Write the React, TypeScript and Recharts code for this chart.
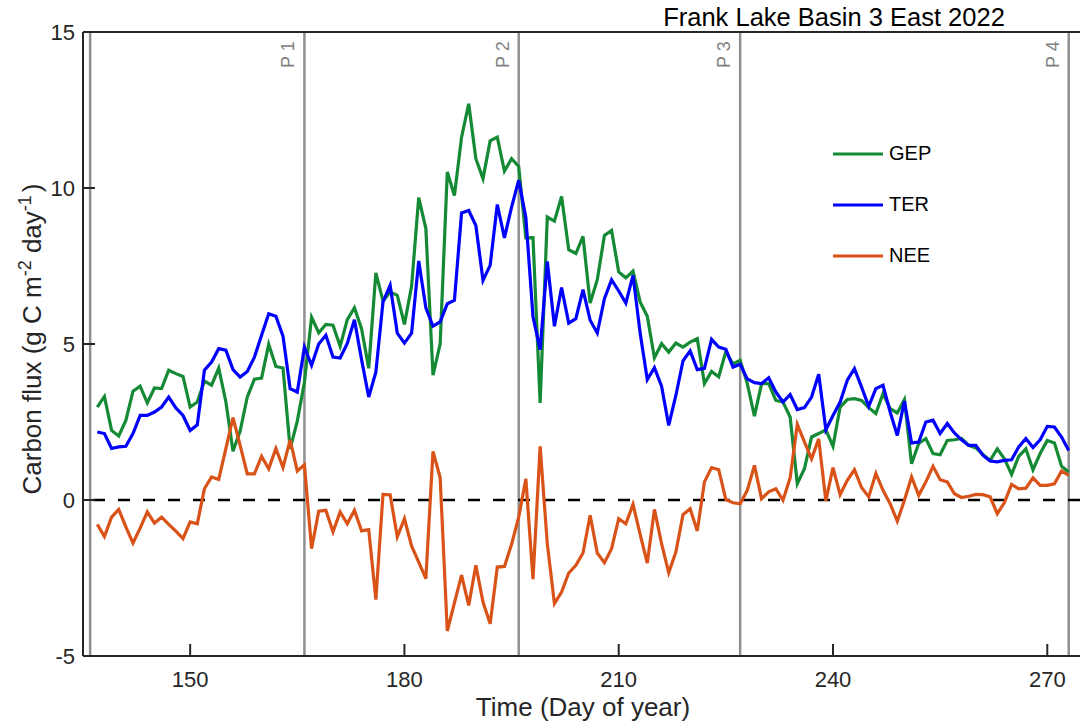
import { LineChart, Line, XAxis, YAxis, ReferenceLine, Legend } from 'recharts';

// Frank Lake Basin 3 East 2022 – daily carbon fluxes, day 137 to 273
const FIRST_DAY = 137;

const gep = [
  2.98, 3.32, 2.23, 2.05, 2.55, 3.49, 3.65, 3.11, 3.59, 3.57,
  4.16, 4.05, 3.96, 2.98, 3.14, 3.81, 3.68, 4.23, 3.15, 1.56,
  2.21, 3.30, 3.87, 3.91, 4.99, 4.28, 4.23, 1.64, 2.53, 3.77,
  5.86, 5.36, 5.63, 5.60, 4.93, 5.78, 6.16, 5.49, 4.22, 7.28,
  6.38, 6.67, 6.56, 5.63, 6.85, 9.69, 8.70, 4.00, 5.00, 10.51,
  9.76, 11.63, 12.70, 10.94, 10.30, 11.51, 11.63, 10.54, 10.94, 10.69,
  8.40, 8.41, 3.11, 9.07, 8.94, 9.73, 8.02, 7.90, 8.45, 6.31,
  7.06, 8.48, 8.64, 7.31, 7.12, 7.34, 6.35, 5.89, 4.56, 5.01,
  4.74, 5.03, 4.90, 5.06, 5.17, 3.73, 4.12, 3.95, 4.76, 4.36,
  4.48, 3.73, 2.69, 3.73, 3.73, 3.19, 3.14, 2.66, 0.52, 1.00,
  2.02, 2.13, 2.25, 1.72, 2.98, 3.22, 3.25, 3.19, 2.96, 2.77,
  3.41, 2.93, 2.79, 3.22, 1.16, 1.81, 1.97, 1.49, 1.45, 1.91,
  1.93, 1.97, 1.75, 1.67, 1.46, 1.27, 1.64, 1.32, 0.82, 1.40,
  1.64, 0.97, 1.49, 1.91, 1.83, 1.08, 0.90,
];

const ter = [
  2.18, 2.13, 1.65, 1.70, 1.72, 2.13, 2.71, 2.71, 2.82, 2.98,
  3.30, 2.95, 2.71, 2.23, 2.41, 4.16, 4.42, 4.85, 4.80, 4.18,
  3.94, 4.12, 4.58, 5.28, 5.97, 5.89, 5.25, 3.57, 3.46, 4.90,
  4.32, 5.00, 5.28, 4.58, 4.55, 5.02, 5.78, 4.50, 3.30, 4.10,
  6.35, 6.88, 5.35, 5.03, 5.35, 7.66, 6.16, 5.57, 5.71, 6.29,
  6.40, 9.20, 9.28, 8.80, 7.04, 7.52, 9.47, 8.40, 9.39, 10.25,
  9.05, 5.87, 4.82, 7.65, 5.57, 6.81, 5.67, 5.81, 6.74, 5.76,
  5.35, 6.45, 7.06, 6.70, 6.31, 7.20, 5.35, 3.86, 4.24, 3.65,
  2.39, 3.35, 4.46, 4.78, 4.18, 4.22, 5.15, 4.90, 4.83, 4.26,
  4.35, 3.88, 3.76, 3.73, 3.92, 3.46, 3.14, 3.38, 2.90, 2.96,
  3.30, 4.03, 2.25, 2.71, 3.14, 3.84, 4.21, 3.62, 3.00, 3.57,
  3.68, 2.82, 2.07, 3.17, 1.83, 1.86, 2.50, 2.56, 2.13, 2.45,
  2.15, 1.93, 1.75, 1.75, 1.43, 1.25, 1.22, 1.27, 1.29, 1.70,
  1.97, 1.68, 1.93, 2.36, 2.34, 2.02, 1.59,
];

const nee = [
  -0.78, -1.17, -0.55, -0.30, -0.86, -1.38, -0.90, -0.38, -0.74, -0.55,
  -0.78, -1.00, -1.24, -0.70, -0.76, 0.36, 0.74, 0.66, 1.65, 2.64,
  1.75, 0.84, 0.84, 1.40, 1.00, 1.65, 1.04, 1.93, 0.93, 1.13,
  -1.56, -0.36, -0.33, -1.02, -0.38, -0.76, -0.33, -0.99, -0.95, -3.19,
  0.18, 0.17, -1.18, -0.60, -1.47, -1.99, -2.52, 1.56, 0.72, -4.20,
  -3.30, -2.41, -3.38, -2.09, -3.27, -3.97, -2.15, -2.13, -1.42, -0.55,
  0.68, -2.54, 1.72, -1.40, -3.32, -2.95, -2.34, -2.09, -1.70, -0.49,
  -1.70, -2.01, -1.56, -0.60, -0.76, -0.14, -1.10, -2.02, -0.30, -1.40,
  -2.33, -1.67, -0.47, -0.28, -0.99, 0.58, 1.04, 0.97, 0.01, -0.09,
  -0.12, 0.31, 1.11, 0.04, 0.26, 0.36, -0.01, 0.71, 2.42, 1.86,
  1.32, 1.96, -0.03, 1.04, 0.17, 0.63, 0.97, 0.40, 0.10, 0.85,
  0.31, -0.12, -0.68, -0.01, 0.74, 0.15, 0.58, 1.08, 0.65, 0.58,
  0.20, 0.08, 0.12, 0.18, 0.17, 0.10, -0.44, -0.08, 0.50, 0.36,
  0.38, 0.71, 0.47, 0.47, 0.52, 0.93, 0.79,
];

// period boundaries (day of year) and their labels
const periodDays = [136, 166, 196, 227, 273];
const periodLabels = ['', 'P 1', 'P 2', 'P 3', 'P 4'];

const xTicks = [150, 180, 210, 240, 270];
const yTicks = [-5, 0, 5, 10, 15];

const SERIES = [
  { key: 'GEP', color: '#148A34' },
  { key: 'TER', color: '#0000FF' },
  { key: 'NEE', color: '#D95319' },
];

const FONT = '"Liberation Sans", Arial, Helvetica, sans-serif';
const AXIS_COLOR = '#262626';

const data = gep.map((v, i) => ({
  day: FIRST_DAY + i,
  GEP: v,
  TER: ter[i],
  NEE: nee[i],
}));

function PeriodLabel({ viewBox, text }: any) {
  if (!text || !viewBox) return null;
  const x = viewBox.x - 10;
  const y = viewBox.y + 36;
  return (
    <text x={x} y={y} transform={`rotate(-90 ${x} ${y})`} fontSize={18} fill="#808080" fontFamily={FONT}>
      {text}
    </text>
  );
}

function YAxisTitle({ viewBox }: any) {
  const cx = viewBox.x + 41;
  const cy = viewBox.y + viewBox.height / 2 - 5;
  return (
    <text x={cx} y={cy} transform={`rotate(-90 ${cx} ${cy})`} textAnchor="middle" fontSize={26} fill={AXIS_COLOR} fontFamily={FONT}>
      Carbon flux (g C m<tspan fontSize={18} dy={-10}>-2</tspan>
      <tspan dy={10}> day</tspan>
      <tspan fontSize={18} dy={-10}>-1</tspan>
      <tspan dy={10} dx={3}>)</tspan>
    </text>
  );
}

function XAxisTitle({ viewBox }: any) {
  return (
    <text x={viewBox.x + viewBox.width / 2} y={viewBox.y + 60} textAnchor="middle" fontSize={26} fill={AXIS_COLOR} fontFamily={FONT}>
      Time (Day of year)
    </text>
  );
}

function ChartTitle({ viewBox }: any) {
  return (
    <text x={viewBox.x + 751} y={viewBox.y - 5} textAnchor="middle" fontSize={25.5} fill="#000" fontFamily={FONT}>
      Frank Lake Basin 3 East 2022
    </text>
  );
}

function FluxLegend() {
  return (
    <div style={{ fontFamily: FONT }}>
      {SERIES.map((s) => (
        <div key={s.key} style={{ display: 'flex', alignItems: 'center', height: 51 }}>
          <svg width={50} height={4} style={{ marginRight: 6 }}>
            <line x1={0} y1={2} x2={50} y2={2} stroke={s.color} strokeWidth={3} />
          </svg>
          <span style={{ fontSize: 20, color: '#000' }}>{s.key}</span>
        </div>
      ))}
    </div>
  );
}

export default function App() {
  return (
    <div style={{ position: 'absolute', left: 0, top: 0, width: 1080, height: 725, overflow: 'hidden', background: '#fff' }}>
      <LineChart width={1100} height={725} data={data} margin={{ top: 31, right: 0, bottom: 0, left: 0 }}>
        <XAxis
          dataKey="day"
          type="number"
          domain={[135, 275]}
          allowDataOverflow
          ticks={xTicks}
          height={69}
          stroke={AXIS_COLOR}
          axisLine={{ strokeWidth: 2 }}
          tickLine={{ strokeWidth: 2 }}
          tickSize={-12}
          tickMargin={27}
          tick={{ fontSize: 22, fill: AXIS_COLOR, fontFamily: FONT }}
          label={<XAxisTitle />}
        />
        <XAxis
          xAxisId="top"
          orientation="top"
          type="number"
          domain={[135, 275]}
          allowDataOverflow
          ticks={xTicks}
          height={1}
          stroke={AXIS_COLOR}
          axisLine={{ strokeWidth: 2 }}
          tickLine={{ strokeWidth: 2 }}
          tickSize={-12}
          tick={false}
          label={<ChartTitle />}
        />
        <YAxis
          type="number"
          domain={[-5, 15]}
          allowDataOverflow
          ticks={yTicks}
          width={83}
          stroke={AXIS_COLOR}
          axisLine={{ strokeWidth: 2 }}
          tickLine={{ strokeWidth: 2 }}
          tickSize={-12}
          tickMargin={20}
          tick={{ fontSize: 22, fill: AXIS_COLOR, fontFamily: FONT }}
          label={<YAxisTitle />}
        />
        <YAxis
          yAxisId="right"
          orientation="right"
          type="number"
          domain={[-5, 15]}
          allowDataOverflow
          ticks={yTicks}
          width={17}
          stroke={AXIS_COLOR}
          axisLine={{ strokeWidth: 2 }}
          tickLine={{ strokeWidth: 2 }}
          tickSize={-12}
          tick={false}
        />
        {periodDays.map((d, i) => (
          <ReferenceLine
            key={d}
            x={d}
            stroke="#909090"
            strokeWidth={2.5}
            label={<PeriodLabel text={periodLabels[i]} />}
          />
        ))}
        <ReferenceLine y={0} stroke="#000" strokeWidth={2.5} strokeDasharray="12 13" strokeDashoffset={15} />
        {SERIES.map((s) => (
          <Line
            key={s.key}
            dataKey={s.key}
            type="linear"
            stroke={s.color}
            strokeWidth={3.2}
            dot={false}
            activeDot={false}
            isAnimationActive={false}
          />
        ))}
        <Legend
          layout="vertical"
          align="center"
          verticalAlign="middle"
          content={<FluxLegend />}
          wrapperStyle={{ left: 833, top: 128, width: 160, height: 153 }}
        />
      </LineChart>
    </div>
  );
}
